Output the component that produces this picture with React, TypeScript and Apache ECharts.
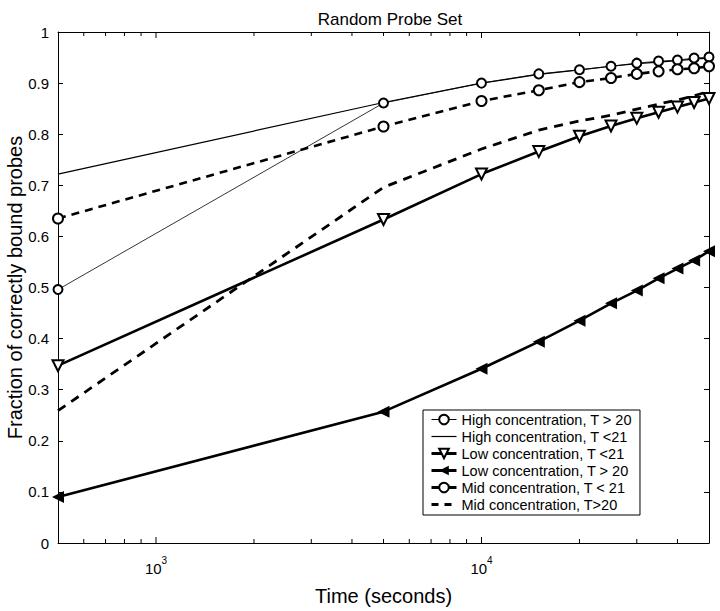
import React, { useEffect, useRef } from "react";
import * as echarts from "echarts";

const FONT = "'Liberation Sans', Arial, Helvetica, sans-serif";

const xValues = [500, 5000, 10000, 15000, 20000, 25000, 30000, 35000, 40000, 45000, 50000];
const highT20 = [0.496, 0.861, 0.9, 0.918, 0.926, 0.933, 0.939, 0.943, 0.945, 0.949, 0.951];
const highT21 = [0.722, 0.862, 0.9, 0.917, 0.926, 0.933, 0.938, 0.941, 0.944, 0.947, 0.949];
const lowT21 = [0.347, 0.633, 0.722, 0.766, 0.796, 0.816, 0.831, 0.843, 0.853, 0.862, 0.87];
const lowT20 = [0.09, 0.257, 0.341, 0.394, 0.435, 0.469, 0.494, 0.518, 0.537, 0.553, 0.571];
const midT21 = [0.635, 0.815, 0.865, 0.886, 0.902, 0.91, 0.918, 0.923, 0.927, 0.929, 0.933];
const midT20 = [0.259, 0.696, 0.771, 0.808, 0.826, 0.837, 0.849, 0.859, 0.867, 0.875, 0.884];

const majorXTicks = [1000, 10000];
const minorXTicks = [600, 700, 800, 900, 2000, 3000, 4000, 5000, 6000, 7000, 8000, 9000, 20000, 30000, 40000];

const legendNames = [
  "High concentration, T > 20",
  "High concentration, T <21",
  "Low concentration, T <21",
  "Low concentration, T > 20",
  "Mid concentration, T < 21",
  "Mid concentration, T>20",
];

const pair = (ys: number[]) => xValues.map((x, i) => [x, ys[i]]);

export default function App() {
  const ref = useRef<HTMLDivElement>(null);
  useEffect(() => {
    if (!ref.current) return;
    const chart = echarts.init(ref.current, null, { renderer: "svg" });
    const tickData = [
      ...majorXTicks.map((v) => [v, 1]),
      ...minorXTicks.map((v) => [v, 0]),
    ];
    const option: any = {
      animation: false,
      backgroundColor: "#fff",
      textStyle: { fontFamily: FONT },
      title: {
        text: "Random Probe Set",
        left: 385,
        textAlign: "center",
        top: 6,
        textStyle: { fontFamily: FONT, fontSize: 17, fontWeight: "normal", color: "#000" },
      },
      grid: { left: 58, top: 32, right: 11, bottom: 68, outerBoundsMode: "none", containLabel: false },
      xAxis: [
        {
          type: "log",
          logBase: 10,
          min: 500,
          max: 50000,
          position: "bottom",
          name: "Time (seconds)",
          nameLocation: "middle",
          nameGap: 43,
          nameTextStyle: { fontFamily: FONT, fontSize: 20, color: "#000" },
          axisLine: { show: true, onZero: false, lineStyle: { color: "#000", width: 1 } },
          axisTick: { show: false },
          splitLine: { show: false },
          axisLabel: {
            margin: 12,
            showMinLabel: false,
            showMaxLabel: false,
            formatter: (v: number) => {
              const e = Math.log10(v);
              const r = Math.round(e);
              if (Math.abs(e - r) < 1e-6 && (r === 3 || r === 4)) return `{b|10}{s|${r}}`;
              return "";
            },
            rich: {
              b: { fontFamily: FONT, fontSize: 15, color: "#000", padding: [6, 0, 0, 0], verticalAlign: "bottom" },
              s: { fontFamily: FONT, fontSize: 10, color: "#000", verticalAlign: "top", lineHeight: 10 },
            },
          },
        },
        {
          type: "log",
          logBase: 10,
          min: 500,
          max: 50000,
          position: "top",
          axisLine: { show: true, onZero: false, lineStyle: { color: "#000", width: 1 } },
          axisTick: { show: false },
          axisLabel: { show: false },
          splitLine: { show: false },
        },
      ],
      yAxis: [
        {
          type: "value",
          min: 0,
          max: 1,
          interval: 0.1,
          position: "left",
          name: "Fraction of correctly bound probes",
          nameLocation: "middle",
          nameGap: 33,
          nameMoveOverlap: false,
          nameTextStyle: { fontFamily: FONT, fontSize: 20, color: "#000" },
          axisLine: { show: true, onZero: false, lineStyle: { color: "#000", width: 1 } },
          axisTick: { show: true, inside: true, length: 5, lineStyle: { color: "#000" } },
          splitLine: { show: false },
          axisLabel: {
            margin: 9,
            fontFamily: FONT,
            fontSize: 15,
            color: "#000",
            formatter: (v: number) => String(Math.round(v * 10) / 10),
          },
        },
        {
          type: "value",
          min: 0,
          max: 1,
          interval: 0.1,
          position: "right",
          axisLine: { show: true, onZero: false, lineStyle: { color: "#000", width: 1 } },
          axisTick: { show: true, inside: true, length: 5, lineStyle: { color: "#000" } },
          splitLine: { show: false },
          axisLabel: { show: false },
        },
      ],
      legend: {
        orient: "vertical",
        left: 423,
        top: 410,
        itemWidth: 25,
        itemHeight: 12,
        itemGap: 2,
        padding: [2, 8, 3, 7],
        borderColor: "#000",
        borderWidth: 1,
        borderRadius: 0,
        backgroundColor: "#fff",
        textStyle: { fontFamily: FONT, fontSize: 14.5, color: "#000" },
        data: [
          { name: legendNames[0], lineStyle: { width: 1 } },
          { name: legendNames[1], itemStyle: { opacity: 0 }, lineStyle: { width: 1.2 } },
          { name: legendNames[2], lineStyle: { width: 3 } },
          { name: legendNames[3], lineStyle: { width: 3 } },
          { name: legendNames[4], lineStyle: { type: "solid", width: 3 } },
          { name: legendNames[5], itemStyle: { opacity: 0 }, lineStyle: { type: [7, 6], width: 3 } },
        ],
      },
      series: [
        {
          name: legendNames[0],
          type: "line",
          data: pair(highT20),
          symbol: "emptyCircle",
          symbolSize: 9,
          itemStyle: { color: "#000", borderWidth: 0.8 },
          lineStyle: { color: "#000", width: 0.8 },
          z: 3,
        },
        {
          name: legendNames[1],
          type: "line",
          data: pair(highT21),
          symbol: "none",
          itemStyle: { color: "#000" },
          lineStyle: { color: "#000", width: 1.2 },
          z: 3,
        },
        {
          name: legendNames[2],
          type: "line",
          data: pair(lowT21),
          symbol: "emptyTriangle",
          symbolRotate: 180,
          symbolSize: 11,
          itemStyle: { color: "#000", borderWidth: 2.2 },
          lineStyle: { color: "#000", width: 2.6 },
          z: 4,
        },
        {
          name: legendNames[3],
          type: "line",
          data: pair(lowT20),
          symbol: "triangle",
          symbolRotate: 90,
          symbolSize: 12,
          itemStyle: { color: "#000" },
          lineStyle: { color: "#000", width: 2.6 },
          z: 4,
        },
        {
          name: legendNames[4],
          type: "line",
          data: pair(midT21),
          symbol: "emptyCircle",
          symbolSize: 10,
          itemStyle: { color: "#000", borderWidth: 2.5 },
          lineStyle: { color: "#000", width: 2.6, type: [8, 6] },
          z: 4,
        },
        {
          name: legendNames[5],
          type: "line",
          data: pair(midT20),
          symbol: "none",
          itemStyle: { color: "#000" },
          lineStyle: { color: "#000", width: 2.8, type: [9, 7] },
          z: 4,
        },
        {
          type: "custom",
          xAxisIndex: 0,
          yAxisIndex: 0,
          silent: true,
          z: 10,
          data: tickData,
          renderItem: (params: any, api: any) => {
            const v = api.value(0);
            const len = api.value(1) ? 6 : 4;
            const b = api.coord([v, 0]);
            const t = api.coord([v, 1]);
            return {
              type: "group",
              children: [
                { type: "line", shape: { x1: b[0], y1: b[1], x2: b[0], y2: b[1] - len }, style: { stroke: "#000", lineWidth: 1 } },
                { type: "line", shape: { x1: t[0], y1: t[1], x2: t[0], y2: t[1] + len }, style: { stroke: "#000", lineWidth: 1 } },
              ],
            };
          },
        },
      ],
    };
    chart.setOption(option);
    return () => chart.dispose();
  }, []);
  return <div ref={ref} style={{ position: "absolute", left: 0, top: 0, width: 720, height: 611 }} />;
}
